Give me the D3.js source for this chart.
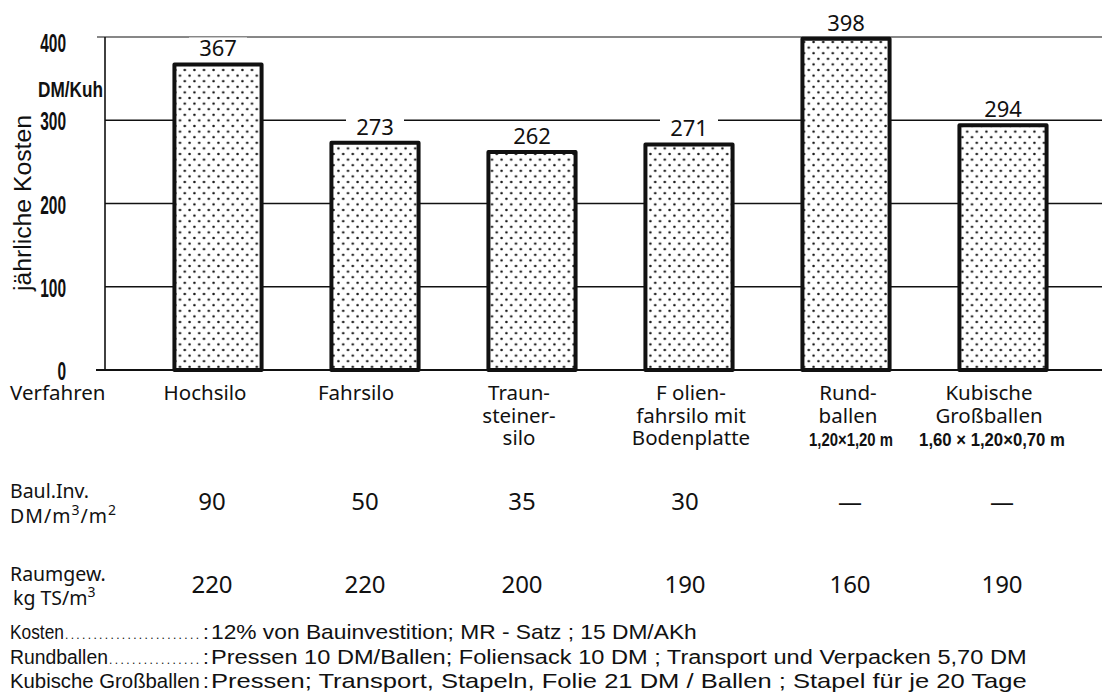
<!DOCTYPE html>
<html>
<head>
<meta charset="utf-8">
<script src="https://cdn.jsdelivr.net/npm/d3@7"></script>
<style>
  html, body { margin: 0; padding: 0; background: #fff; }
  svg { display: block; }
  .narrow { font-family: "Liberation Sans", "DejaVu Sans", sans-serif; }
  .round { font-family: "Noto Sans", "DejaVu Sans", sans-serif; }
</style>
</head>
<body>
<svg id="chart" width="1102" height="693"></svg>
<script>
// Jährliche Kosten je Kuh für verschiedene Silierverfahren
const verfahren = ["Hochsilo", "Fahrsilo", "Traunsteiner-silo", "Folienfahrsilo", "Rundballen", "Kubische Großballen"];
const kosten = [367, 273, 262, 271, 398, 294];
const nameLines = [
  ["Hochsilo"],
  ["Fahrsilo"],
  ["Traun-", "steiner-", "silo"],
  ["F olien-", "fahrsilo mit", "Bodenplatte"],
  ["Rund-", "ballen"],
  ["Kubische", "Großballen"]
];
const formate = ["", "", "", "", "1,20\u00d71,20 m", "1,60 \u00d7 1,20\u00d70,70 m"];
const baulInv = ["90", "50", "35", "30", "\u2014", "\u2014"];
const raumgew = ["220", "220", "200", "190", "160", "190"];
const yTicks = [0, 100, 200, 300, 400];
const fussnoten = [
  ["Kosten", "12% von Bauinvestition;  MR - Satz ; 15 DM/AKh"],
  ["Rundballen", "Pressen 10 DM/Ballen; Foliensack 10 DM ; Transport und Verpacken 5,70 DM"],
  ["Kubische  Großballen", "Pressen; Transport, Stapeln, Folie  21 DM / Ballen ; Stapel für je 20 Tage"]
];

// layout constants: horizontal nudges of the table columns relative to bar centres
const nameShift = [-13, -19, -13, 2, 2, -14];
const valueShift = [-6, -10, -10, -4, 4, -1];

const svg = d3.select("#chart");
const axisX = 105, gridRight = 1102;
const ink = "#111";

const x = d3.scaleBand()
  .domain(verfahren)
  .range([139.5, 1081.5])
  .paddingInner(0.445)
  .paddingOuter(0.2225);

const y = d3.scaleLinear().domain([0, 400]).range([370, 37]);
const cx = d => x(d) + x.bandwidth() / 2;

// condensed lettering: draw the text, then squeeze it horizontally to a width
function narrowText(parent, str, px, py, size, width, anchor = "start", rotate = 0, weight = "normal") {
  const g = parent.append("g");
  const t = g.append("text")
    .attr("class", "narrow")
    .attr("font-size", size)
    .attr("font-weight", weight)
    .attr("fill", ink)
    .attr("text-anchor", anchor)
    .text(str);
  const len = t.node().getComputedTextLength() || width;
  const sx = width / len;
  g.attr("transform", `translate(${px},${py}) rotate(${rotate}) scale(${sx},1)`);
  return g;
}

// dotted fill for the bars
const defs = svg.append("defs");
const pat = defs.append("pattern")
  .attr("id", "dots")
  .attr("patternUnits", "userSpaceOnUse")
  .attr("width", 9.6).attr("height", 11.2);
pat.append("rect").attr("width", 9.6).attr("height", 11.2).attr("fill", "#fff");
pat.append("circle").attr("cx", 2.4).attr("cy", 2.8).attr("r", 1.25).attr("fill", ink);
pat.append("circle").attr("cx", 7.2).attr("cy", 8.4).attr("r", 1.25).attr("fill", ink);

// gridlines
svg.append("g").selectAll("line")
  .data(yTicks.filter(d => d > 0))
  .join("line")
  .attr("x1", d => d === 400 ? 97 : axisX)
  .attr("x2", gridRight)
  .attr("y1", d => y(d)).attr("y2", d => y(d))
  .attr("stroke", ink)
  .attr("stroke-width", d => d === 400 ? 1.2 : 1.4);

// baseline
svg.append("line")
  .attr("x1", 96).attr("x2", gridRight)
  .attr("y1", y(0)).attr("y2", y(0))
  .attr("stroke", ink).attr("stroke-width", 2);

// vertical axis
svg.append("line")
  .attr("x1", axisX).attr("x2", axisX)
  .attr("y1", y(400)).attr("y2", y(0))
  .attr("stroke", ink).attr("stroke-width", 1.6);

// tick labels
const tickG = svg.append("g");
yTicks.forEach(d => {
  narrowText(tickG, String(d), 66, y(d) + (d === 400 ? 15 : 10), 25, String(d).length * 8.6, "end", 0, "bold");
});

narrowText(svg, "DM/Kuh", 38, 97, 22, 65, "start", 0, "bold");
narrowText(svg, "jährliche Kosten", 31, 203, 24, 176, "middle", -90);

// bars
svg.append("g").selectAll("rect")
  .data(verfahren)
  .join("rect")
  .attr("x", d => x(d))
  .attr("y", (d, i) => y(kosten[i]))
  .attr("width", x.bandwidth())
  .attr("height", (d, i) => y(0) - y(kosten[i]))
  .attr("fill", "url(#dots)")
  .attr("stroke", ink)
  .attr("stroke-width", 4)
  .attr("stroke-linejoin", "round");

// value labels above the bars (white backing breaks the gridline)
const vl = svg.append("g").selectAll("g")
  .data(verfahren)
  .join("g")
  .attr("transform", (d, i) => `translate(${cx(d)},${y(kosten[i]) - 8})`);
vl.append("rect")
  .attr("x", -29).attr("y", -19).attr("width", 58).attr("height", 20)
  .attr("fill", "#fff");
vl.append("text")
  .attr("class", "round")
  .attr("text-anchor", "middle")
  .attr("font-size", 22)
  .attr("fill", ink)
  .text((d, i) => kosten[i]);

// table below the chart
svg.append("text").attr("class", "round")
  .attr("x", 10).attr("y", 400).attr("font-size", 20.5).attr("fill", ink)
  .text("Verfahren");

svg.append("g").selectAll("text")
  .data(verfahren)
  .join("text")
  .attr("class", "round")
  .attr("text-anchor", "middle")
  .attr("font-size", 20.5)
  .attr("fill", ink)
  .each(function (d, i) {
    const t = d3.select(this);
    nameLines[i].forEach((line, k) => {
      t.append("tspan")
        .attr("x", cx(d) + nameShift[i])
        .attr("y", 400 + k * 22.5)
        .text(line);
    });
  });

const fmtWidth = { 4: 84, 5: 146 };
const fmtG = svg.append("g");
verfahren.forEach((d, i) => {
  if (!formate[i]) return;
  narrowText(fmtG, formate[i], cx(d) + nameShift[i] + 3, 446, 19, fmtWidth[i], "middle", 0, "bold");
});

// row: Baul.Inv.
svg.append("text").attr("class", "round")
  .attr("x", 10).attr("y", 498).attr("font-size", 19.5).attr("fill", ink)
  .text("Baul.Inv.");
const dm = svg.append("text").attr("class", "round")
  .attr("x", 10).attr("y", 523).attr("font-size", 19.5).attr("fill", ink)
  .attr("letter-spacing", 1);
dm.append("tspan").text("DM/m");
dm.append("tspan").attr("dy", -8).attr("font-size", 14).text("3");
dm.append("tspan").attr("dy", 8).text("/m");
dm.append("tspan").attr("dy", -8).attr("font-size", 14).text("2");

svg.append("g").selectAll("text")
  .data(verfahren)
  .join("text")
  .attr("class", "round")
  .attr("text-anchor", "middle")
  .attr("x", (d, i) => cx(d) + valueShift[i])
  .attr("y", 510)
  .attr("font-size", 24)
  .attr("fill", ink)
  .text((d, i) => baulInv[i]);

// row: Raumgew.
svg.append("text").attr("class", "round")
  .attr("x", 10).attr("y", 581).attr("font-size", 19.5).attr("fill", ink)
  .text("Raumgew.");
const kg = svg.append("text").attr("class", "round")
  .attr("x", 13).attr("y", 605).attr("font-size", 19.5).attr("fill", ink);
kg.append("tspan").text("kg TS/m");
kg.append("tspan").attr("dy", -8).attr("font-size", 14).text("3");

svg.append("g").selectAll("text")
  .data(verfahren)
  .join("text")
  .attr("class", "round")
  .attr("text-anchor", "middle")
  .attr("x", (d, i) => cx(d) + valueShift[i])
  .attr("y", 593)
  .attr("font-size", 24)
  .attr("fill", ink)
  .text((d, i) => raumgew[i]);

// footnotes
const labelWidth = [54, 98, 190];
const fnLen = [486, 816, 816];
const colonX = 203;
const fnG = svg.append("g");
fussnoten.forEach((d, i) => {
  const by = 639 + i * 24.5;
  narrowText(fnG, d[0], 10, by, 21, labelWidth[i]);
  const end = 10 + labelWidth[i];
  if (colonX - end > 8) {
    // leader dots up to the colon
    const n = Math.floor((colonX - end - 4) / 5.5);
    fnG.append("text")
      .attr("class", "narrow")
      .attr("x", end + 1)
      .attr("y", by)
      .attr("font-size", 12)
      .attr("fill", ink)
      .attr("textLength", colonX - end - 5)
      .attr("lengthAdjust", "spacing")
      .text(".".repeat(n));
  }
  fnG.append("text")
    .attr("class", "narrow")
    .attr("x", colonX)
    .attr("y", by)
    .attr("font-size", 21)
    .attr("fill", ink)
    .text(":");
  narrowText(fnG, d[1], 211, by, 21, fnLen[i]);
});
</script>
</body>
</html>
